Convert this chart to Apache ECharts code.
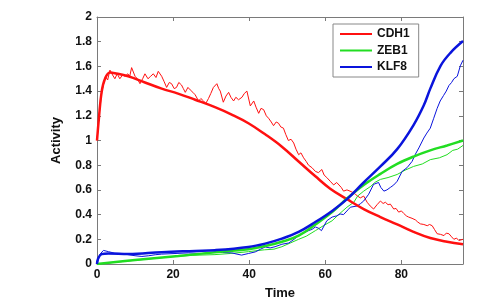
<!DOCTYPE html>
<html>
<head>
<meta charset="utf-8">
<script src="https://cdn.jsdelivr.net/npm/echarts@6/dist/echarts.min.js"></script>
<style>html,body{margin:0;padding:0;background:#fff}#c{width:487px;height:305px}</style>
</head>
<body>
<div id="c"></div>
<script>
var xTicks = [0, 20, 40, 60, 80];
var yTicks = [0, 0.2, 0.4, 0.6, 0.8, 1, 1.2, 1.4, 1.6, 1.8, 2];
var legendNames = ['CDH1', 'ZEB1', 'KLF8'];

var cdh1Smooth = [[0,1.0],[0.5,1.18],[1.2,1.39],[2.1,1.50],[3.4,1.55],[4.7,1.545],[8.2,1.52],[12.6,1.47],[17,1.42],[21.3,1.38],[25.8,1.33],[31,1.27],[35.4,1.21],[39.8,1.14],[44.2,1.05],[48.6,0.95],[53,0.83],[57.4,0.71],[61.3,0.61],[65.7,0.525],[70.1,0.445],[74.5,0.38],[78.9,0.32],[83.2,0.26],[87.6,0.21],[92,0.18],[96.2,0.16]];
var zeb1Smooth = [[0,0],[10,0.032],[21.4,0.064],[32.4,0.1],[39.8,0.12],[44.2,0.145],[48.6,0.18],[53,0.23],[57.4,0.32],[61.8,0.42],[65.7,0.53],[70.1,0.64],[74.5,0.73],[78.9,0.81],[83.2,0.87],[87.6,0.92],[92,0.96],[96.2,1.0]];
var klf8Smooth = [[0,0],[0.3,0.045],[1.2,0.08],[3,0.086],[8.3,0.08],[17,0.096],[25.8,0.106],[31,0.112],[39.8,0.138],[44.2,0.165],[48.6,0.205],[53,0.26],[57.4,0.34],[61.8,0.43],[65.7,0.525],[70.1,0.66],[74.5,0.79],[78.9,0.93],[83.2,1.125],[85.9,1.285],[87.6,1.42],[90.3,1.605],[92.9,1.71],[96.2,1.805]];

var cdh1Noisy = [[0,1.0],[0.6,1.22],[1.3,1.40],[2.2,1.52],[2.8,1.49],[3.4,1.57],[4.1,1.53],[4.7,1.50],[5.3,1.54],[6,1.50],[6.7,1.53],[7.4,1.52],[8.1,1.54],[8.6,1.52],[9.1,1.59],[10,1.52],[10.6,1.50],[11.3,1.46],[12,1.50],[12.6,1.54],[13.4,1.50],[14.1,1.52],[14.8,1.54],[15.5,1.51],[16.1,1.56],[17,1.52],[17.6,1.48],[18.3,1.43],[19,1.47],[19.6,1.46],[20.3,1.42],[20.9,1.43],[21.5,1.47],[22.2,1.45],[22.7,1.42],[23.2,1.39],[23.9,1.43],[24.5,1.41],[25.2,1.39],[25.8,1.37],[26.7,1.32],[27.3,1.34],[28,1.32],[28.6,1.30],[29.3,1.34],[29.9,1.38],[30.6,1.43],[31.5,1.46],[32,1.42],[32.4,1.40],[33.2,1.31],[33.9,1.36],[34.6,1.39],[35.2,1.35],[35.9,1.32],[36.5,1.35],[37.2,1.33],[38.1,1.35],[38.7,1.38],[39.4,1.40],[40.3,1.28],[41.2,1.32],[41.8,1.27],[42.5,1.22],[43.1,1.26],[43.8,1.25],[44.5,1.20],[45.1,1.18],[45.8,1.15],[46.4,1.12],[47.1,1.15],[47.7,1.14],[48.3,1.11],[49,1.10],[49.6,1.05],[50.3,1.00],[51,1.01],[51.7,0.98],[52.3,0.93],[53,0.885],[53.6,0.90],[54.3,0.86],[55,0.83],[55.6,0.80],[56.5,0.78],[57.4,0.75],[58.2,0.74],[59.1,0.765],[59.7,0.72],[60.4,0.70],[61.3,0.67],[62.2,0.64],[63,0.66],[63.5,0.66],[64.2,0.62],[64.8,0.59],[65.7,0.60],[66.5,0.59],[67.2,0.58],[67.9,0.565],[68.5,0.55],[69.2,0.535],[70.1,0.55],[71,0.50],[71.8,0.47],[72.7,0.445],[73.6,0.48],[74.5,0.51],[75.2,0.49],[75.8,0.50],[76.5,0.48],[77.1,0.485],[78,0.445],[78.6,0.45],[79.3,0.42],[80,0.43],[80.6,0.41],[81.3,0.39],[81.9,0.38],[82.8,0.37],[83.7,0.357],[84.3,0.34],[85,0.325],[85.9,0.32],[86.8,0.31],[87.4,0.32],[88.1,0.31],[88.7,0.28],[89.4,0.245],[90.3,0.24],[91.2,0.23],[91.8,0.25],[92.5,0.245],[93.2,0.22],[93.8,0.20],[94.5,0.21],[95.1,0.19],[96.2,0.20]];
var zeb1Noisy = [[0,0],[5,0.015],[10,0.03],[15,0.045],[20,0.06],[25,0.07],[31,0.076],[35,0.085],[39.8,0.1],[44,0.115],[46.5,0.12],[48.6,0.14],[50.8,0.17],[53,0.2],[55,0.225],[57.4,0.27],[59.5,0.31],[61.8,0.35],[63.5,0.40],[65.7,0.46],[67.5,0.50],[68.5,0.55],[70.1,0.59],[72,0.63],[73,0.66],[74.5,0.685],[76.5,0.70],[78.9,0.725],[81,0.76],[83.2,0.79],[85.5,0.81],[87.6,0.845],[90,0.86],[92,0.885],[93.5,0.92],[94.8,0.93],[96.2,0.96]];
var klf8Noisy = [[0,0],[0.8,0.08],[1.7,0.11],[3,0.10],[4.7,0.087],[6.4,0.085],[8.3,0.075],[10,0.067],[11.8,0.061],[13.6,0.067],[15.3,0.075],[17,0.08],[20.5,0.085],[24,0.09],[27.5,0.085],[31,0.095],[33,0.093],[35.4,0.09],[36.8,0.08],[38,0.072],[39.8,0.085],[41.6,0.098],[43,0.12],[44.2,0.138],[45.5,0.13],[46.8,0.14],[48.6,0.16],[50.4,0.17],[51.8,0.20],[53,0.23],[54.2,0.25],[55.6,0.27],[56.5,0.28],[57.4,0.30],[58.2,0.29],[59,0.27],[60.4,0.35],[61.8,0.38],[63,0.39],[63.9,0.405],[64.8,0.40],[66,0.44],[66.6,0.46],[68.4,0.47],[69.3,0.49],[70.1,0.51],[71.4,0.565],[72.7,0.645],[74,0.66],[74.6,0.62],[75.4,0.59],[76.2,0.60],[77.1,0.62],[78,0.64],[78.9,0.67],[80.2,0.75],[81.5,0.78],[82.8,0.83],[83.7,0.89],[84.6,0.94],[85.9,1.02],[86.7,1.06],[87.6,1.10],[88.5,1.18],[89.4,1.26],[90.2,1.32],[91.1,1.365],[91.8,1.40],[92.5,1.445],[93.2,1.47],[93.8,1.50],[94.7,1.52],[95.5,1.605],[96.2,1.65]];

var RED = '#ff1010', GREEN = '#22dd22', BLUE = '#0a14dc';
var FONT = 'Liberation Sans, Arial, sans-serif';

function line(name, data, color, width, smooth, z) {
  return {
    name: name, type: 'line', data: data, showSymbol: false, symbol: 'none',
    smooth: smooth, lineStyle: { color: color, width: width }, itemStyle: { color: color },
    z: z, animation: false
  };
}

var chart = echarts.init(document.getElementById('c'), null, { renderer: 'canvas' });
var axisColor = '#7a7a7a';
function frameAxis(extra) {
  var base = {
    axisLine: { show: true, onZero: false, lineStyle: { color: axisColor, width: 1 } },
    axisTick: { show: true, inside: true, length: 4, lineStyle: { color: axisColor } },
    splitLine: { show: false }
  };
  for (var k in extra) base[k] = extra[k];
  return base;
}
chart.setOption({
  animation: false,
  backgroundColor: '#fff',
  grid: { left: 97, top: 17, right: 24, bottom: 38, containLabel: false },
  legend: {
    data: legendNames.map(function (n) { return { name: n, icon: 'rect' }; }),
    orient: 'vertical', left: 333, top: 24,
    itemWidth: 32, itemHeight: 2, itemGap: 2.5,
    padding: [3, 9, 3, 7],
    borderColor: '#888', borderWidth: 1, backgroundColor: '#fff',
    textStyle: { fontFamily: FONT, fontWeight: 'bold', fontSize: 12, color: '#111', lineHeight: 14 },
    selectedMode: false
  },
  xAxis: [frameAxis({
    type: 'value', min: 0, max: 96.2, interval: 20, position: 'bottom',
    name: 'Time', nameLocation: 'middle', nameGap: 23,
    nameTextStyle: { fontFamily: FONT, fontWeight: 'bold', fontSize: 13, color: '#111' },
    axisLabel: { fontFamily: FONT, fontWeight: 'bold', fontSize: 12, color: '#111', margin: 5, showMaxLabel: false,
      formatter: function (v) { return xTicks.indexOf(v) >= 0 ? String(v) : ''; } }
  }), frameAxis({
    type: 'value', min: 0, max: 96.2, interval: 20, position: 'top',
    axisLabel: { show: false }
  })],
  yAxis: [frameAxis({
    type: 'value', min: 0, max: 2, interval: 0.2, position: 'left',
    name: 'Activity', nameLocation: 'middle', nameGap: 34, nameRotate: 90,
    nameTextStyle: { fontFamily: FONT, fontWeight: 'bold', fontSize: 13, color: '#111' },
    axisLabel: { fontFamily: FONT, fontWeight: 'bold', fontSize: 12, color: '#111', margin: 5,
      formatter: function (v) { var r = Math.round(v * 10) / 10; return yTicks.indexOf(r) >= 0 ? String(r) : ''; } }
  }), frameAxis({
    type: 'value', min: 0, max: 2, interval: 0.2, position: 'right',
    axisLabel: { show: false }
  })],
  series: [
    line('CDH1 stochastic', cdh1Noisy, RED, 1, false, 2),
    line('ZEB1 stochastic', zeb1Noisy, GREEN, 1, false, 2),
    line('KLF8 stochastic', klf8Noisy, BLUE, 1, false, 2),
    line('CDH1', cdh1Smooth, RED, 2.5, 0.4, 3),
    line('ZEB1', zeb1Smooth, GREEN, 2.5, 0.4, 3),
    line('KLF8', klf8Smooth, BLUE, 2.5, 0.4, 3)
  ]
});
</script>
</body>
</html>
